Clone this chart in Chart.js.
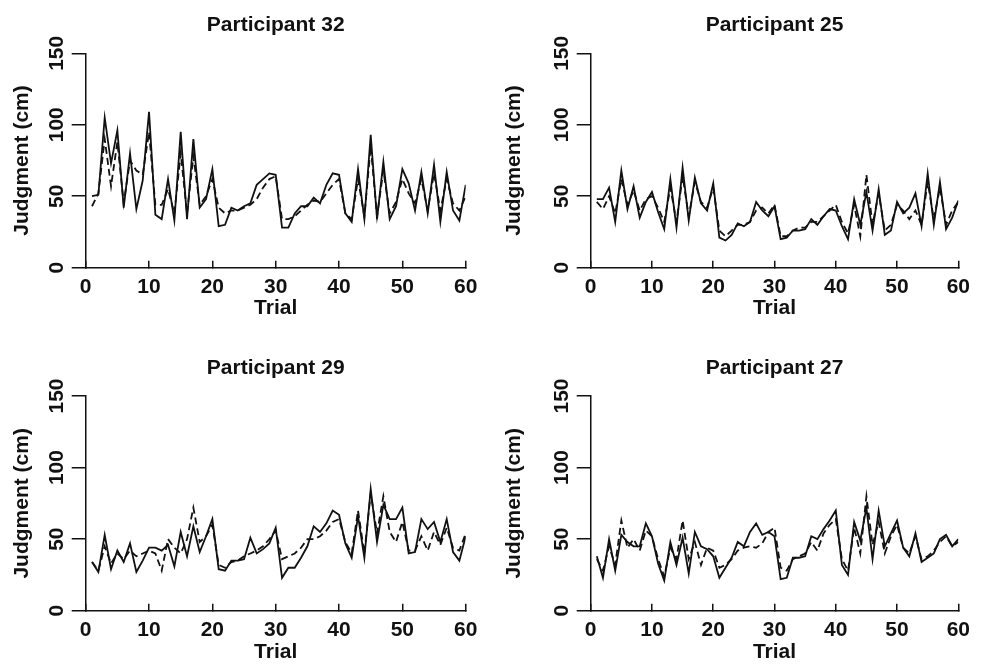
<!DOCTYPE html>
<html>
<head>
<meta charset="utf-8">
<script src="https://cdn.jsdelivr.net/npm/chart.js@4"></script>
<style>
    html, body { margin: 0; padding: 0; background: #fff; }
    #wrap { position: relative; width: 984px; height: 666px; }
    canvas { position: absolute; }
</style>
</head>
<body>
<div id="wrap">
    <canvas id="p32" width="492" height="333" style="left:0;top:0"></canvas>
    <canvas id="p25" width="492" height="333" style="left:492px;top:0"></canvas>
    <canvas id="p29" width="492" height="333" style="left:0;top:333px"></canvas>
    <canvas id="p27" width="492" height="333" style="left:492px;top:333px"></canvas>
</div>
<script>
// Data
const trials = Array.from({ length: 60 }, (_, i) => i + 1);
const xTicks = [0, 10, 20, 30, 40, 50, 60];
const yTicks = [0, 50, 100, 150];

const solid32 = [50, 51, 105, 73, 96, 42, 80, 41, 61, 109, 37, 34, 62, 33, 95, 34, 90, 42, 48, 69,
    29, 30, 42, 40, 43, 45, 58, 62, 66, 65, 28, 28, 38, 43, 43, 49, 45, 58, 66, 65,
    38, 32, 69, 34, 93, 34, 74, 34, 43, 69, 59, 40, 67, 38, 72, 32, 67, 40, 33, 58];
const dashed32 = [43, 52, 90, 57, 88, 45, 75, 68, 65, 95, 44, 44, 55, 38, 80, 38, 78, 44, 50, 62,
    42, 38, 40, 40, 42, 44, 48, 56, 62, 64, 34, 34, 36, 40, 44, 47, 46, 52, 58, 62,
    38, 34, 62, 36, 85, 36, 68, 38, 46, 62, 52, 45, 62, 40, 66, 40, 62, 45, 40, 50];

const solid25 = [48, 48, 56, 32, 68, 41, 57, 35, 46, 53, 39, 27, 62, 28, 70, 33, 63, 45, 40, 59,
    21, 19, 23, 31, 29, 32, 46, 40, 36, 43, 20, 21, 26, 26, 27, 34, 30, 36, 41, 40,
    29, 20, 48, 30, 53, 26, 55, 23, 26, 46, 38, 42, 52, 29, 66, 30, 60, 27, 35, 47];
const dashed25 = [46, 41, 50, 38, 62, 44, 54, 40, 48, 50, 42, 32, 56, 32, 64, 36, 60, 46, 42, 56,
    26, 22, 26, 30, 30, 32, 40, 42, 38, 44, 22, 22, 26, 28, 28, 32, 32, 36, 40, 44,
    32, 24, 44, 22, 65, 30, 52, 26, 30, 44, 40, 34, 40, 30, 60, 34, 56, 30, 40, 46];

const solid29 = [34, 27, 53, 29, 42, 34, 47, 27, 35, 44, 44, 42, 46, 31, 55, 38, 59, 41, 52, 64,
    29, 28, 35, 35, 36, 51, 40, 43, 47, 58, 23, 30, 30, 37, 45, 59, 55, 61, 70, 67,
    47, 37, 66, 37, 85, 48, 74, 64, 64, 72, 40, 41, 64, 57, 62, 48, 64, 41, 35, 52];
const dashed29 = [34, 28, 45, 33, 40, 36, 42, 38, 40, 42, 40, 28, 50, 44, 40, 50, 72, 48, 52, 60,
    32, 30, 34, 35, 38, 40, 42, 45, 50, 56, 36, 38, 40, 44, 50, 50, 52, 56, 62, 64,
    48, 40, 70, 40, 82, 54, 80, 55, 48, 62, 42, 42, 52, 42, 55, 46, 58, 44, 42, 54];

const solid27 = [38, 23, 50, 28, 53, 48, 45, 45, 61, 52, 33, 21, 48, 32, 51, 26, 55, 45, 43, 38,
    23, 30, 37, 48, 45, 55, 61, 53, 55, 52, 22, 23, 37, 37, 38, 52, 50, 57, 63, 70,
    32, 25, 62, 49, 72, 36, 70, 45, 54, 63, 44, 38, 54, 34, 37, 40, 50, 53, 45, 50];
const dashed27 = [36, 28, 45, 32, 63, 44, 50, 42, 56, 52, 36, 24, 44, 36, 63, 36, 48, 32, 44, 42,
    30, 32, 36, 42, 44, 45, 44, 47, 55, 58, 30, 28, 36, 38, 40, 48, 42, 54, 60, 64,
    36, 28, 58, 40, 80, 46, 62, 40, 52, 60, 44, 40, 52, 36, 38, 42, 48, 52, 45, 48];

const FONT_SIZE = 21;
const LINE_H = FONT_SIZE * 1.2;

Chart.defaults.font.family = '"Liberation Sans", Arial, sans-serif';
Chart.defaults.font.weight = 'bold';
Chart.defaults.font.size = FONT_SIZE;
Chart.defaults.color = '#111';

// box: chart area left/top/bottom in canvas px, right = space right of chart area
function makePanel(id, title, solid, dashed, box) {
    const ctx = document.getElementById(id).getContext('2d');
    return new Chart(ctx, {
        type: 'line',
        data: {
            labels: trials,
            datasets: [
                {
                    data: dashed,
                    borderColor: '#111',
                    borderWidth: 1.8,
                    borderDash: [7, 4],
                    pointRadius: 0,
                    tension: 0
                },
                {
                    data: solid,
                    borderColor: '#111',
                    borderWidth: 1.8,
                    pointRadius: 0,
                    tension: 0
                }
            ]
        },
        options: {
            responsive: false,
            animation: false,
            devicePixelRatio: 1,
            layout: {
                padding: { left: 0, right: box.right, top: 0, bottom: 0 }
            },
            scales: {
                x: {
                    type: 'linear',
                    min: 0,
                    max: 60,
                    afterBuildTicks: scale => { scale.ticks = xTicks.map(v => ({ value: v })); },
                    afterFit: scale => { scale.height = 333 - box.bottom; },
                    border: { display: true, color: '#111', width: 1.5 },
                    grid: {
                        drawOnChartArea: false,
                        drawTicks: true,
                        tickLength: -7,
                        color: '#111',
                        lineWidth: 1.5
                    },
                    ticks: { padding: 14, maxRotation: 0, autoSkip: false },
                    title: {
                        display: true,
                        text: 'Trial',
                        padding: { top: 0, bottom: box.xTitlePad }
                    }
                },
                y: {
                    min: 0,
                    max: 150,
                    afterBuildTicks: scale => { scale.ticks = yTicks.map(v => ({ value: v })); },
                    afterFit: scale => { scale.width = box.left; },
                    border: { display: true, color: '#111', width: 1.5 },
                    grid: {
                        drawOnChartArea: false,
                        drawTicks: true,
                        tickLength: 14,
                        color: '#111',
                        lineWidth: 1.5
                    },
                    ticks: {
                        minRotation: 90,
                        maxRotation: 90,
                        crossAlign: 'center',
                        padding: -3
                    },
                    title: {
                        display: true,
                        text: 'Judgment (cm)',
                        padding: { top: 9.5, bottom: 0 }
                    }
                }
            },
            plugins: {
                legend: { display: false },
                tooltip: { enabled: false },
                title: {
                    display: true,
                    fullSize: false,
                    text: title,
                    padding: { top: box.titleTop, bottom: box.top - box.titleTop - LINE_H }
                }
            }
        }
    });
}

makePanel('p32', 'Participant 32', solid32, dashed32,
    { left: 85.7, right: 26.3, top: 53.3, bottom: 267.7, titleTop: 12.9, xTitlePad: 12.4 });
makePanel('p25', 'Participant 25', solid25, dashed25,
    { left: 98.7, right: 13.3, top: 53.3, bottom: 267.7, titleTop: 12.9, xTitlePad: 12.4 });
makePanel('p29', 'Participant 29', solid29, dashed29,
    { left: 85.7, right: 26.3, top: 63, bottom: 277.7, titleTop: 22.4, xTitlePad: 1.4 });
makePanel('p27', 'Participant 27', solid27, dashed27,
    { left: 98.7, right: 13.3, top: 63, bottom: 277.7, titleTop: 22.4, xTitlePad: 1.4 });
</script>
</body>
</html>
